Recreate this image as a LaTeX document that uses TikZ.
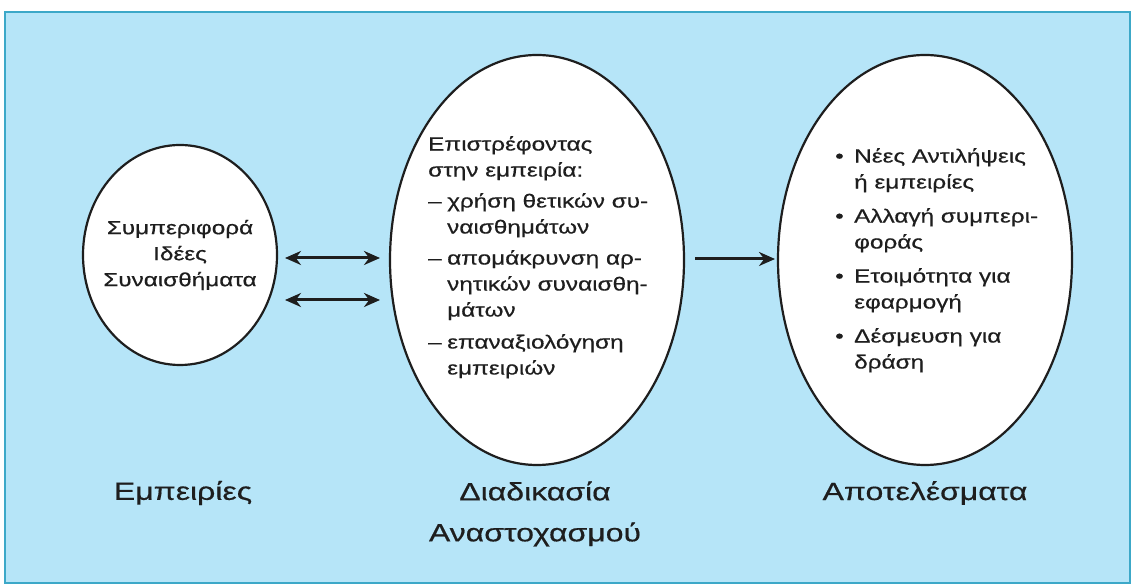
\documentclass[tikz,border=0pt]{standalone}
\usepackage{fontspec}
\setmainfont{Liberation Sans}[FakeStretch=1.28,FakeBold=0.5]
\usetikzlibrary{arrows.meta,shapes.geometric}
\definecolor{bgblue}{RGB}{182,229,248}
\definecolor{frameblue}{RGB}{60,168,200}
\definecolor{inkc}{RGB}{30,30,30}
\tikzset{
  x=1pt,y=1pt,
  oval/.style={draw=inkc,line width=2.2pt,fill=white,ellipse,inner sep=0pt},
  arr/.style={draw=inkc,line width=3pt,-{Stealth[length=16pt,width=14pt]}},
  darr/.style={draw=inkc,line width=3pt,{Stealth[length=16pt,width=14pt]}-{Stealth[length=16pt,width=14pt]}},
  inner/.style={text=inkc,font=\fontsize{19}{26}\selectfont,inner sep=0pt},
  lbl/.style={text=inkc,font=\fontsize{25}{41}\selectfont,inner sep=0pt,align=center},
}
\newcommand{\itm}[1]{\makebox[19pt][l]{#1}}
\newcommand{\ind}{\hspace*{19pt}}
\begin{document}
\begin{tikzpicture}
\useasboundingbox (0,0) rectangle (1137,588);
\fill[white] (0,0) rectangle (1137,588);
\draw[frameblue,line width=2pt,fill=bgblue] (5,5) rectangle (1130,576);

\node[oval,minimum width=194pt,minimum height=220pt] (L) at (180,333) {};
\node[oval,minimum width=294pt,minimum height=410pt] (M) at (537,328) {};
\node[oval,minimum width=294pt,minimum height=410pt] (R) at (925,328) {};

\node[inner,align=center] (Lt) at (180,333) {Συμπεριφορά\\Ιδέες\\Συναισθήματα};

\node[inner,align=left,anchor=north west] (Mt) at (428,452)
 {Επιστρέφοντας\\στην εμπειρία:\\[5pt]
  \itm{–}χρήση θετικών συ-\\\ind ναισθημάτων\\[5pt]
  \itm{–}απομάκρυνση αρ-\\\ind νητικών συναισθη-\\\ind μάτων\\[6pt]
  \itm{–}επαναξιολόγηση\\\ind εμπειριών};

\node[inner,align=left,anchor=north west] (Rt) at (835,440)
 {\itm{•}Νέες Αντιλήψεις\\\ind ή εμπειρίες\\[8pt]
  \itm{•}Αλλαγή συμπερι-\\\ind φοράς\\[8pt]
  \itm{•}Ετοιμότητα για\\\ind εφαρμογή\\[8pt]
  \itm{•}Δέσμευση για\\\ind δράση};

\node[lbl] (l1) at (183,95) {Εμπειρίες};
\node[lbl] (l2) at (535,74) {Διαδικασία\\Αναστοχασμού};
\node[lbl] (l3) at (925,95) {Αποτελέσματα};

\coordinate (a1s) at (285,330); \coordinate (a1e) at (380,330);
\coordinate (a2s) at (285,288); \coordinate (a2e) at (380,288);
\coordinate (a3s) at (695,329); \coordinate (a3e) at (775,329);
\draw[darr] (a1s) -- (a1e);
\draw[darr] (a2s) -- (a2e);
\draw[arr] (a3s) -- (a3e);
\end{tikzpicture}
\end{document}
